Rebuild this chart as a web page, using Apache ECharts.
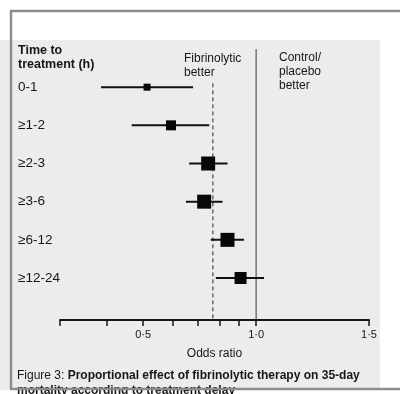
<!DOCTYPE html>
<html><head><meta charset="utf-8">
<script src="https://cdn.jsdelivr.net/npm/echarts@6/dist/echarts.min.js"></script>
<style>html,body{margin:0;padding:0;background:#fff}#c{width:400px;height:394px}</style>
</head><body><div id="c"></div>
<script>
// ---- data ----
const categories = ['0-1', '≥1-2', '≥2-3', '≥3-6', '≥6-12', '≥12-24'];
const oddsRatio  = [0.512, 0.593, 0.745, 0.727, 0.839, 0.909];
const ciLower    = [0.386, 0.466, 0.663, 0.650, 0.757, 0.781];
const ciUpper    = [0.679, 0.750, 0.839, 0.814, 0.929, 1.050];
const boxWeight  = [7, 10, 14, 14, 14, 12];
const overallOR  = 0.767;
const nullOR     = 1.0;
const xTickValues  = [0.3, 0.4, 0.5, 0.6, 0.7, 0.8, 0.9, 1.0, 2.0];
const xLabelValues = [0.5, 1.0, 2.0];
const xLabelTexts  = ['0·5', '1·0', '1·5'];

const FONT = '"Liberation Sans", Arial, sans-serif';
const INK = '#161616';

const chart = echarts.init(document.getElementById('c'), null, {renderer: 'canvas'});

const forestData = categories.map((c, i) => [oddsRatio[i], i, ciLower[i], ciUpper[i], boxWeight[i]]);

chart.setOption({
  animation: false,
  backgroundColor: '#ffffff',
  textStyle: {fontFamily: FONT, color: INK},
  graphic: [
    {type: 'rect', z: -10, shape: {x: 0, y: 40, width: 380, height: 350}, style: {fill: '#ececec'}},
    {type: 'line', z: 100, shape: {x1: 10, y1: 11, x2: 400, y2: 11}, style: {stroke: '#8c8c8c', lineWidth: 2.5}},
    {type: 'line', z: 100, shape: {x1: 11, y1: 11, x2: 11, y2: 389}, style: {stroke: '#8c8c8c', lineWidth: 2.5}},
    {type: 'line', z: 100, shape: {x1: 10, y1: 389, x2: 400, y2: 389}, style: {stroke: '#8c8c8c', lineWidth: 2.5}}
  ],
  title: [
    {text: 'Time to\ntreatment (h)', left: 18, top: 44, padding: 0,
     textStyle: {fontFamily: FONT, fontSize: 12.5, fontWeight: 'bold', color: INK, lineHeight: 14}},
    {text: 'Fibrinolytic\nbetter', left: 184, top: 52, padding: 0,
     textStyle: {fontFamily: FONT, fontSize: 12, fontWeight: 'normal', color: INK, lineHeight: 14}},
    {text: 'Control/\nplacebo\nbetter', left: 279, top: 51, padding: 0,
     textStyle: {fontFamily: FONT, fontSize: 12, fontWeight: 'normal', color: INK, lineHeight: 14}},
    {text: '{r|Figure 3: }{b|Proportional effect of fibrinolytic therapy on 35-day}\n{b|mortality according to treatment delay}',
     left: 17, top: 368, padding: 0,
     textStyle: {fontFamily: FONT, fontSize: 12, fontWeight: 'normal', color: INK, lineHeight: 15,
       rich: {r: {fontFamily: FONT, fontSize: 12, fontWeight: 'normal', color: INK, lineHeight: 15},
              b: {fontFamily: FONT, fontSize: 12, fontWeight: 'bold', color: INK, lineHeight: 15}}}}
  ],
  grid: {left: 60, width: 309, top: 49, height: 271, outerBoundsMode: 'none'},
  xAxis: {
    type: 'log', min: 0.3, max: 2.0, position: 'bottom',
    name: 'Odds ratio', nameLocation: 'middle', nameGap: 28,
    nameTextStyle: {fontFamily: FONT, fontSize: 12, color: INK},
    axisLine: {show: true, onZero: false, lineStyle: {color: INK, width: 2}},
    axisTick: {show: true, inside: false, length: 6, customValues: xTickValues, lineStyle: {color: INK, width: 1.5}},
    axisLabel: {show: true, customValues: xLabelValues, margin: 9, fontFamily: FONT, fontSize: 11, color: INK,
      formatter: v => { const k = xLabelValues.findIndex(x => Math.abs(x - v) < 1e-6); return k >= 0 ? xLabelTexts[k] : ''; }},
    splitLine: {show: false}, minorTick: {show: false}
  },
  yAxis: {
    type: 'value', inverse: true, min: -1, max: 6.1,
    axisLine: {show: false}, axisTick: {show: false}, splitLine: {show: false},
    axisLabel: {show: true, customValues: [0, 1, 2, 3, 4, 5], align: 'left', margin: 42,
      fontFamily: FONT, fontSize: 13.5, color: INK,
      formatter: v => categories[Math.round(v)] ?? ''}
  },
  series: [
    {type: 'line', data: [[nullOR, -1], [nullOR, 6.1]], symbol: 'none', silent: true,
     lineStyle: {color: '#3a3a3a', width: 1}, z: 1},
    {type: 'line', data: [[overallOR, -0.1], [overallOR, 6.1]], symbol: 'none', silent: true,
     lineStyle: {color: '#2a2a2a', width: 1, type: [4, 3]}, z: 1},
    {type: 'custom', data: forestData, encode: {x: 0, y: 1}, z: 3,
     renderItem: (params, api) => {
       const row = api.value(1);
       const p = api.coord([api.value(0), row]);
       const lo = api.coord([api.value(2), row]);
       const hi = api.coord([api.value(3), row]);
       const s = api.value(4);
       return {type: 'group', children: [
         {type: 'line', shape: {x1: lo[0], y1: lo[1], x2: hi[0], y2: hi[1]}, style: {stroke: '#111', lineWidth: 2}},
         {type: 'rect', shape: {x: p[0] - s / 2, y: p[1] - s / 2, width: s, height: s}, style: {fill: '#080808'}}
       ]};
     }}
  ]
});
</script></body></html>
